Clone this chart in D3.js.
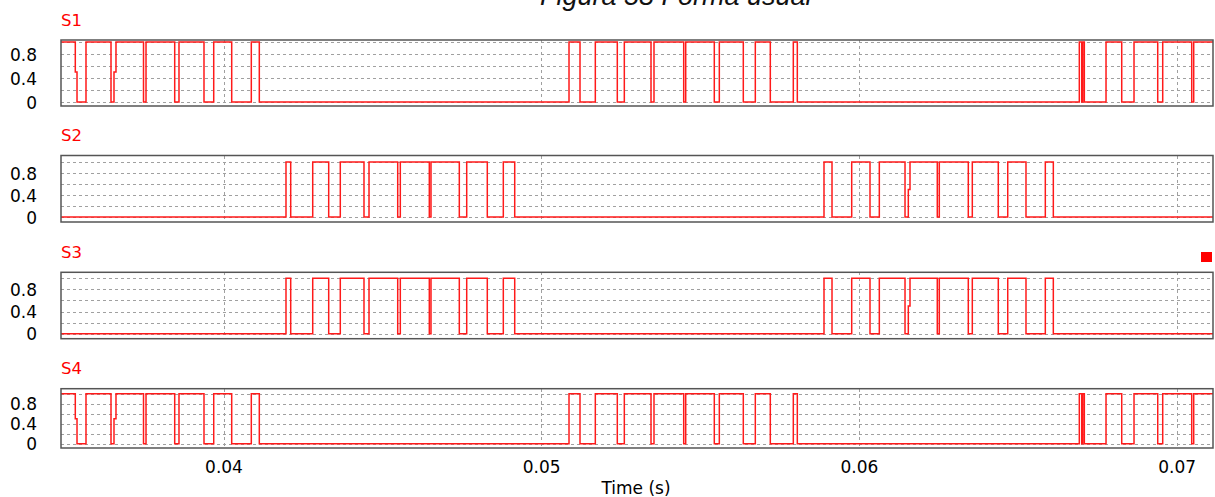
<html>
<head>
<meta charset="utf-8">
<title>Figura 58 Forma usual</title>
<style>
body {
  margin: 0;
  background: #fff;
  font-family: "DejaVu Sans", sans-serif;
}
.tick text {
  font-family: "DejaVu Sans", sans-serif;
  font-size: 17px;
  fill: #000;
}
.label {
  font-family: "DejaVu Sans", sans-serif;
  font-size: 16.5px;
  fill: #ff0000;
}
.grid line {
  stroke: #a0a0a0;
  stroke-dasharray: 3,3;
  shape-rendering: crispEdges;
}
</style>
</head>
<body>
<div id="vis"></div>

<script src="https://d3js.org/d3.v7.min.js"></script>
<script>

// switching instants (s) and the level held from each one on
var s1Time = [0.034885, 0.035335, 0.035389, 0.035672, 0.036459, 0.036553, 0.036616,
  0.037482, 0.037561, 0.038464, 0.038599, 0.039386, 0.039692, 0.040258, 0.040875,
  0.041127, 0.050875, 0.051221, 0.051703, 0.052395, 0.052616, 0.053456, 0.053550,
  0.054485, 0.054548, 0.055448, 0.055606, 0.056361, 0.056739, 0.057211, 0.057935,
  0.058061, 0.066937, 0.067013, 0.067044, 0.067095, 0.067778, 0.068272, 0.068659,
  0.069405, 0.069562, 0.070475, 0.070538];
var s1Value = [1, 0.5, 0, 1, 0, 0.5, 1,
  0, 1, 0, 1, 0, 1, 0, 1,
  0, 1, 0, 1, 0, 1, 0, 1,
  0, 1, 0, 1, 0, 1, 0, 1,
  0, 1, 0, 1, 0, 1, 0, 1,
  0, 1, 0, 1];

var s2Time = [0.034885, 0.041967, 0.042115, 0.042808, 0.043311, 0.043676, 0.044422,
  0.044580, 0.045483, 0.045565, 0.046478, 0.046531, 0.047422, 0.047655, 0.048303,
  0.048807, 0.049166, 0.058901, 0.059153, 0.059773, 0.060349, 0.060642, 0.061451,
  0.061555, 0.061608, 0.062467, 0.062530, 0.063443, 0.063569, 0.064387, 0.064684,
  0.065259, 0.065867, 0.066119];
var s2Value = [0, 1, 0, 1, 0, 1, 0,
  1, 0, 1, 0, 1, 0, 1, 0,
  1, 0, 1, 0, 1, 0, 1, 0,
  0.5, 1, 0, 1, 0, 1, 0, 1,
  0, 1, 0];

var s3Time = [0.034885, 0.041967, 0.042115, 0.042808, 0.043311, 0.043676, 0.044422,
  0.044580, 0.045483, 0.045565, 0.046478, 0.046531, 0.047422, 0.047655, 0.048303,
  0.048807, 0.049166, 0.058901, 0.059153, 0.059773, 0.060349, 0.060642, 0.061451,
  0.061555, 0.061608, 0.062467, 0.062530, 0.063443, 0.063569, 0.064387, 0.064684,
  0.065259, 0.065867, 0.066119];
var s3Value = [0, 1, 0, 1, 0, 1, 0,
  1, 0, 1, 0, 1, 0, 1, 0,
  1, 0, 1, 0, 1, 0, 1, 0,
  0.5, 1, 0, 1, 0, 1, 0, 1,
  0, 1, 0];

var s4Time = [0.034885, 0.035335, 0.035389, 0.035672, 0.036459, 0.036553, 0.036616,
  0.037482, 0.037561, 0.038464, 0.038599, 0.039386, 0.039692, 0.040258, 0.040875,
  0.041127, 0.050875, 0.051221, 0.051703, 0.052395, 0.052616, 0.053456, 0.053550,
  0.054485, 0.054548, 0.055448, 0.055606, 0.056361, 0.056739, 0.057211, 0.057935,
  0.058061, 0.066937, 0.067013, 0.067044, 0.067095, 0.067778, 0.068272, 0.068659,
  0.069405, 0.069562, 0.070475, 0.070538];
var s4Value = [1, 0.5, 0, 1, 0, 0.5, 1,
  0, 1, 0, 1, 0, 1, 0, 1,
  0, 1, 0, 1, 0, 1, 0, 1,
  0, 1, 0, 1, 0, 1, 0, 1,
  0, 1, 0, 1, 0, 1, 0, 1,
  0, 1, 0, 1];

var names = ["S1", "S2", "S3", "S4"];
var xTicks = [0.04, 0.05, 0.06, 0.07];
var yTicks = [0, 0.4, 0.8];
var yGrid = [0, 0.2, 0.4, 0.6, 0.8, 1];
var tStart = 0.034885, tEnd = 0.071145;

var series = [[s1Time, s1Value], [s2Time, s2Value], [s3Time, s3Value], [s4Time, s4Value]];

// panel geometry: box top/bottom and where 1 and 0 sit
var panels = [
  {top: 40, bottom: 106, one: 42, zero: 102},
  {top: 155.5, bottom: 222, one: 162, zero: 217},
  {top: 272.3, bottom: 338.7, one: 278.3, zero: 333.7},
  {top: 388.7, bottom: 448, one: 393.7, zero: 443.7}
];

var width = 1215, height = 497, left = 61, right = 1213;

var svg = d3.select("#vis").append("svg")
    .attr("width", width)
    .attr("height", height);

var x = d3.scaleLinear().domain([tStart, tEnd]).range([left, right]);

svg.append("text")
    .attr("x", 540)
    .attr("y", 5)
    .style("font-family", "'Liberation Sans', Arial, sans-serif")
    .style("font-style", "italic")
    .style("font-size", "27px")
    .style("fill", "#111")
    .text("Figura 58 Forma usual");

panels.forEach(function(p, i) {
  var y = d3.scaleLinear().domain([0, 1]).range([p.zero, p.one]);
  var g = svg.append("g");

  g.append("clipPath").attr("id", "clip" + i)
    .append("rect")
      .attr("x", left).attr("y", p.top)
      .attr("width", right - left).attr("height", p.bottom - p.top);

  var grid = g.append("g").attr("class", "grid");
  grid.selectAll(".h").data(yGrid).enter().append("line")
      .attr("x1", left).attr("x2", right)
      .attr("y1", function(d) { return Math.round(y(d)) + 0.5; })
      .attr("y2", function(d) { return Math.round(y(d)) + 0.5; });
  grid.selectAll(".v").data(xTicks).enter().append("line")
      .attr("y1", p.top).attr("y2", p.bottom)
      .attr("x1", function(d) { return Math.round(x(d)) + 0.5; })
      .attr("x2", function(d) { return Math.round(x(d)) + 0.5; });

  var t = series[i][0], v = series[i][1];
  var pts = t.map(function(d, k) { return [d, v[k]]; });
  pts.push([tEnd, v[v.length - 1]]);

  var line = d3.line()
      .x(function(d) { return x(d[0]); })
      .y(function(d) { return y(d[1]); })
      .curve(d3.curveStepAfter);

  g.append("path")
      .datum(pts)
      .attr("clip-path", "url(#clip" + i + ")")
      .attr("fill", "none")
      .attr("stroke", "#ff1a1a")
      .attr("stroke-width", 1.5)
      .attr("d", line);

  g.append("rect")
      .attr("x", left).attr("y", p.top)
      .attr("width", right - left).attr("height", p.bottom - p.top)
      .attr("fill", "none")
      .attr("stroke", "#555")
      .attr("stroke-width", 1.5);

  var ya = g.append("g")
      .attr("transform", "translate(37,0)")
      .call(d3.axisLeft(y).tickValues(yTicks).tickSize(0).tickPadding(0)
        .tickFormat(function(d) { return d === 0 ? "0" : d3.format(".1f")(d); }));
  ya.select(".domain").remove();
  ya.selectAll("text").attr("x", 0).attr("dy", "0.36em");

  g.append("text")
      .attr("class", "label")
      .attr("x", left)
      .attr("y", p.top - 14.5)
      .text(names[i]);

  if (i == panels.length - 1) {
    var xa = g.append("g")
        .attr("transform", "translate(0," + p.bottom + ")")
        .call(d3.axisBottom(x).tickValues(xTicks).tickSize(0).tickPadding(13)
          .tickFormat(d3.format(".2f")));
    xa.select(".domain").remove();

    svg.append("text")
        .attr("x", 636)
        .attr("y", 494)
        .attr("text-anchor", "middle")
        .style("font-family", "'DejaVu Sans', sans-serif")
        .style("font-size", "17px")
        .style("fill", "#000")
        .text("Time (s)");
  }
});

// small marker at the right of S3
svg.append("rect")
    .attr("x", 1201).attr("y", 252)
    .attr("width", 11).attr("height", 10)
    .attr("fill", "#ff0000");

</script>
</body>
</html>
